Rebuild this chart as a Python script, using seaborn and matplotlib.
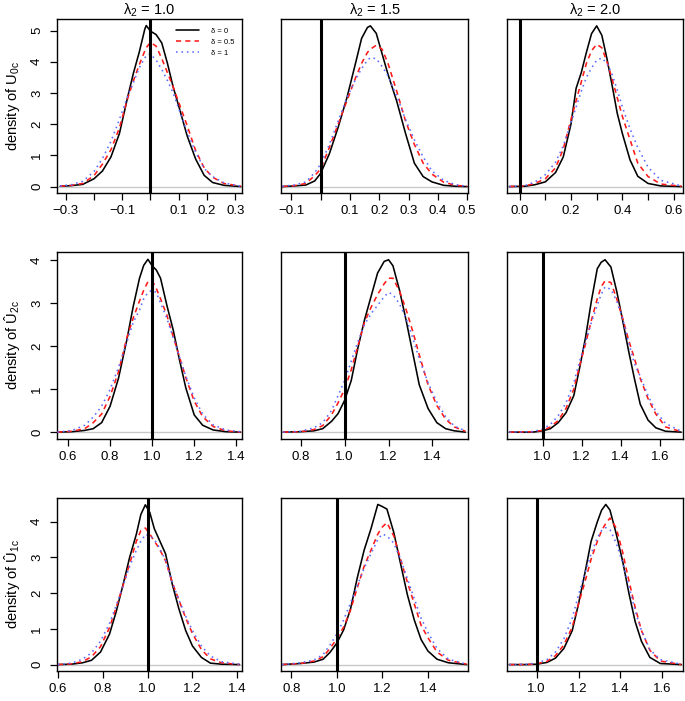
import pandas as pd
import matplotlib
matplotlib.use("Agg")
import matplotlib.pyplot as plt
import seaborn as sns
from matplotlib.lines import Line2D

# Density estimates (x grid + one list per delta)
lambda2_values = ["1.0", "1.5", "2.0"]
delta_labels = ["δ = 0", "δ = 0.5", "δ = 1"]
true_values = [0.0, 1.0, 1.0]  # U0c, U2c, U1c

# ---- U0c ----
u0c_l10_x = [-0.32, -0.28, -0.24, -0.20, -0.17, -0.14, -0.11, -0.08, -0.06, -0.04, -0.02, -0.015,
             0.0, 0.02, 0.04, 0.06, 0.08, 0.10, 0.13, 0.16, 0.19, 0.22, 0.26, 0.32]
u0c_l10_d0 = [0.01, 0.03, 0.07, 0.25, 0.5, 0.95, 1.7, 2.9, 3.65, 4.3, 5.05, 5.16,
              4.98, 4.87, 4.6, 3.95, 3.2, 2.58, 1.62, 0.88, 0.36, 0.13, 0.04, 0.0]
u0c_l10_d05 = [0.01, 0.04, 0.1, 0.35, 0.72, 1.18, 1.88, 2.85, 3.4, 3.9, 4.35, 4.45,
               4.62, 4.5, 4.1, 3.65, 3.2, 2.7, 1.95, 1.15, 0.6, 0.3, 0.1, 0.01]
u0c_l10_d1 = [0.02, 0.06, 0.17, 0.48, 0.9, 1.45, 2.15, 2.92, 3.35, 3.8, 4.12, 4.2,
              4.25, 4.05, 3.75, 3.4, 3.0, 2.5, 1.75, 1.1, 0.58, 0.32, 0.12, 0.01]

u0c_l15_x = [-0.13, -0.09, -0.05, -0.02, 0.0, 0.03, 0.06, 0.09, 0.12, 0.14, 0.16, 0.17,
             0.19, 0.21, 0.23, 0.26, 0.29, 0.32, 0.35, 0.38, 0.42, 0.46, 0.50]
u0c_l15_d0 = [0.0, 0.02, 0.05, 0.18, 0.42, 1.05, 1.9, 2.85, 3.98, 4.75, 5.1, 5.15,
              4.91, 4.25, 3.6, 2.73, 1.7, 0.75, 0.32, 0.15, 0.04, 0.01, 0.0]
u0c_l15_d05 = [0.0, 0.03, 0.1, 0.35, 0.56, 1.25, 2.0, 2.75, 3.5, 3.95, 4.3, 4.4,
               4.53, 4.4, 3.95, 3.05, 2.1, 1.35, 0.75, 0.4, 0.14, 0.04, 0.01]
u0c_l15_d1 = [0.01, 0.05, 0.15, 0.45, 0.72, 1.35, 2.1, 2.85, 3.45, 3.78, 4.05, 4.13,
              4.1, 3.85, 3.55, 2.9, 2.15, 1.5, 0.95, 0.5, 0.2, 0.06, 0.01]

u0c_l20_x = [-0.04, 0.02, 0.06, 0.1, 0.14, 0.17, 0.2, 0.22, 0.24, 0.26, 0.28, 0.3,
             0.32, 0.34, 0.36, 0.38, 0.4, 0.43, 0.46, 0.5, 0.55, 0.63]
u0c_l20_d0 = [0.0, 0.01, 0.06, 0.15, 0.45, 0.95, 2.0, 3.15, 3.65, 4.3, 4.9, 5.15,
              4.85, 4.1, 3.25, 2.35, 1.7, 0.85, 0.33, 0.1, 0.02, 0.0]
u0c_l20_d05 = [0.0, 0.02, 0.1, 0.25, 0.6, 1.2, 2.15, 2.75, 3.35, 3.95, 4.35, 4.56,
               4.45, 4.0, 3.45, 2.85, 2.25, 1.5, 0.75, 0.32, 0.08, 0.01]
u0c_l20_d1 = [0.0, 0.03, 0.15, 0.38, 0.78, 1.3, 2.05, 2.55, 3.05, 3.5, 3.8, 4.05,
              4.12, 3.95, 3.6, 3.1, 2.55, 1.85, 1.25, 0.62, 0.2, 0.02]

# ---- U2c hat ----
u2c_l10_x = [0.55, 0.62, 0.68, 0.72, 0.76, 0.8, 0.84, 0.88, 0.91, 0.94, 0.96, 0.98,
             1.0, 1.02, 1.04, 1.07, 1.1, 1.13, 1.16, 1.2, 1.24, 1.29, 1.35, 1.42]
u2c_l10_d0 = [0.0, 0.01, 0.04, 0.08, 0.22, 0.6, 1.25, 2.15, 2.92, 3.58, 3.88, 4.02,
              3.87, 3.77, 3.58, 2.95, 2.38, 1.68, 1.03, 0.4, 0.16, 0.05, 0.01, 0.0]
u2c_l10_d05 = [0.0, 0.02, 0.08, 0.22, 0.42, 0.83, 1.4, 2.2, 2.65, 3.05, 3.3, 3.5,
               3.52, 3.34, 3.1, 2.72, 2.22, 1.75, 1.27, 0.72, 0.36, 0.13, 0.03, 0.0]
u2c_l10_d1 = [0.0, 0.04, 0.16, 0.35, 0.6, 0.99, 1.5, 2.1, 2.55, 2.84, 3.1, 3.25,
              3.3, 3.25, 3.0, 2.65, 2.2, 1.75, 1.3, 0.8, 0.42, 0.17, 0.05, 0.01]

u2c_l15_x = [0.72, 0.8, 0.86, 0.9, 0.94, 0.97, 1.0, 1.03, 1.06, 1.09, 1.12, 1.15,
             1.18, 1.2, 1.22, 1.25, 1.28, 1.31, 1.34, 1.38, 1.42, 1.46, 1.5, 1.55]
u2c_l15_d0 = [0.0, 0.01, 0.03, 0.08, 0.25, 0.43, 0.74, 1.2, 1.95, 2.6, 3.15, 3.7,
              3.97, 4.01, 3.87, 3.3, 2.6, 1.85, 1.1, 0.55, 0.22, 0.08, 0.03, 0.0]
u2c_l15_d05 = [0.0, 0.01, 0.06, 0.15, 0.4, 0.68, 1.0, 1.45, 2.0, 2.55, 2.9, 3.2,
               3.45, 3.58, 3.58, 3.28, 2.85, 2.35, 1.8, 1.1, 0.62, 0.3, 0.12, 0.02]
u2c_l15_d1 = [0.0, 0.02, 0.1, 0.22, 0.5, 0.85, 1.2, 1.65, 2.1, 2.5, 2.75, 2.95,
              3.15, 3.25, 3.2, 2.98, 2.65, 2.2, 1.7, 1.15, 0.7, 0.36, 0.14, 0.03]

u2c_l20_x = [0.83, 0.95, 1.0, 1.04, 1.08, 1.12, 1.16, 1.19, 1.22, 1.25, 1.28, 1.3,
             1.32, 1.35, 1.38, 1.41, 1.44, 1.47, 1.5, 1.54, 1.58, 1.63, 1.71]
u2c_l20_d0 = [0.0, 0.0, 0.03, 0.08, 0.22, 0.45, 0.85, 1.5, 2.2, 3.05, 3.8, 3.95,
              4.01, 3.84, 3.27, 2.6, 1.9, 1.25, 0.65, 0.28, 0.1, 0.02, 0.0]
u2c_l20_d05 = [0.0, 0.01, 0.04, 0.12, 0.27, 0.55, 1.0, 1.55, 2.05, 2.6, 3.1, 3.38,
               3.52, 3.48, 3.1, 2.65, 2.15, 1.72, 1.25, 0.78, 0.42, 0.12, 0.01]
u2c_l20_d1 = [0.0, 0.01, 0.07, 0.18, 0.38, 0.68, 1.15, 1.65, 2.1, 2.55, 2.95, 3.2,
              3.38, 3.32, 3.05, 2.65, 2.1, 1.6, 1.3, 0.85, 0.48, 0.2, 0.02]

# ---- U1c hat ----
u1c_l10_x = [0.6, 0.66, 0.71, 0.75, 0.79, 0.83, 0.86, 0.89, 0.92, 0.95, 0.97, 0.99,
             1.01, 1.03, 1.05, 1.08, 1.11, 1.14, 1.17, 1.2, 1.24, 1.28, 1.33, 1.41]
u1c_l10_d0 = [0.0, 0.01, 0.05, 0.12, 0.35, 0.85, 1.48, 2.22, 3.0, 3.65, 4.2, 4.47,
              4.25, 3.8, 3.52, 3.1, 2.25, 1.55, 0.95, 0.52, 0.2, 0.04, 0.01, 0.0]
u1c_l10_d05 = [0.0, 0.02, 0.08, 0.22, 0.5, 1.03, 1.6, 2.2, 2.82, 3.45, 3.75, 3.82,
               3.65, 3.45, 3.27, 2.9, 2.3, 1.8, 1.3, 0.87, 0.42, 0.16, 0.05, 0.0]
u1c_l10_d1 = [0.0, 0.04, 0.15, 0.33, 0.65, 1.15, 1.65, 2.2, 2.75, 3.2, 3.45, 3.64,
              3.6, 3.5, 3.3, 2.92, 2.3, 1.8, 1.35, 0.95, 0.52, 0.24, 0.08, 0.01]

u1c_l15_x = [0.76, 0.84, 0.9, 0.94, 0.97, 1.0, 1.03, 1.06, 1.09, 1.12, 1.15, 1.18,
             1.2, 1.22, 1.25, 1.28, 1.31, 1.34, 1.37, 1.4, 1.44, 1.49, 1.57]
u1c_l15_d0 = [0.0, 0.03, 0.07, 0.15, 0.34, 0.6, 0.97, 1.55, 2.43, 3.2, 3.8, 4.48,
              4.42, 4.35, 3.7, 2.82, 1.95, 1.25, 0.7, 0.38, 0.15, 0.05, 0.0]
u1c_l15_d05 = [0.0, 0.03, 0.1, 0.22, 0.45, 0.72, 1.05, 1.52, 2.15, 2.75, 3.2, 3.65,
               3.85, 3.97, 3.6, 2.95, 2.3, 1.7, 1.1, 0.75, 0.35, 0.12, 0.01]
u1c_l15_d1 = [0.0, 0.05, 0.13, 0.28, 0.55, 0.85, 1.25, 1.72, 2.2, 2.7, 3.1, 3.5,
              3.65, 3.6, 3.4, 2.95, 2.4, 1.85, 1.3, 0.9, 0.45, 0.15, 0.01]

u1c_l20_x = [0.87, 0.95, 1.0, 1.05, 1.09, 1.13, 1.17, 1.2, 1.23, 1.26, 1.29, 1.31,
             1.33, 1.35, 1.38, 1.41, 1.44, 1.47, 1.5, 1.54, 1.59, 1.69]
u1c_l20_d0 = [0.0, 0.0, 0.01, 0.06, 0.18, 0.45, 0.95, 1.7, 2.55, 3.45, 4.0, 4.32,
              4.48, 4.32, 3.65, 2.9, 2.0, 1.2, 0.65, 0.2, 0.03, 0.0]
u1c_l20_d05 = [0.0, 0.0, 0.02, 0.09, 0.25, 0.55, 1.05, 1.7, 2.3, 2.95, 3.45, 3.75,
               3.95, 4.1, 3.82, 3.15, 2.35, 1.6, 0.95, 0.4, 0.1, 0.0]
u1c_l20_d1 = [0.0, 0.01, 0.04, 0.14, 0.35, 0.72, 1.3, 1.95, 2.55, 3.1, 3.55, 3.75,
              3.83, 3.77, 3.4, 2.85, 2.2, 1.5, 0.95, 0.42, 0.14, 0.01]

panels = [
    [(u0c_l10_x, u0c_l10_d0, u0c_l10_d05, u0c_l10_d1),
     (u0c_l15_x, u0c_l15_d0, u0c_l15_d05, u0c_l15_d1),
     (u0c_l20_x, u0c_l20_d0, u0c_l20_d05, u0c_l20_d1)],
    [(u2c_l10_x, u2c_l10_d0, u2c_l10_d05, u2c_l10_d1),
     (u2c_l15_x, u2c_l15_d0, u2c_l15_d05, u2c_l15_d1),
     (u2c_l20_x, u2c_l20_d0, u2c_l20_d05, u2c_l20_d1)],
    [(u1c_l10_x, u1c_l10_d0, u1c_l10_d05, u1c_l10_d1),
     (u1c_l15_x, u1c_l15_d0, u1c_l15_d05, u1c_l15_d1),
     (u1c_l20_x, u1c_l20_d0, u1c_l20_d05, u1c_l20_d1)],
]

row_labels = [r"density of U$_{\mathrm{0c}}$",
              r"density of Û$_{\mathrm{2c}}$",
              r"density of Û$_{\mathrm{1c}}$"]

# axis settings
xlims = [[(-0.331, 0.324), (-0.135, 0.503), (-0.049, 0.636)],
         [(0.548, 1.427), (0.71, 1.562), (0.818, 1.719)],
         [(0.596, 1.421), (0.755, 1.576), (0.859, 1.698)]]
ylims = [(-0.206, 5.37), (-0.16, 4.19), (-0.18, 4.66)]
yticks = [[0, 1, 2, 3, 4, 5], [0, 1, 2, 3, 4], [0, 1, 2, 3, 4]]
m = "\u2212"
xticks = [
    [([-0.3, -0.2, -0.1, 0.0, 0.1, 0.2, 0.3], [m + "0.3", "", m + "0.1", "", "0.1", "0.2", "0.3"]),
     ([-0.1, 0.0, 0.1, 0.2, 0.3, 0.4, 0.5], [m + "0.1", "", "0.1", "0.2", "0.3", "0.4", "0.5"]),
     ([0.0, 0.1, 0.2, 0.3, 0.4, 0.5, 0.6], ["0.0", "", "0.2", "", "0.4", "", "0.6"])],
    [([0.6, 0.8, 1.0, 1.2, 1.4], ["0.6", "0.8", "1.0", "1.2", "1.4"]),
     ([0.8, 1.0, 1.2, 1.4], ["0.8", "1.0", "1.2", "1.4"]),
     ([1.0, 1.2, 1.4, 1.6], ["1.0", "1.2", "1.4", "1.6"])],
    [([0.6, 0.8, 1.0, 1.2, 1.4], ["0.6", "0.8", "1.0", "1.2", "1.4"]),
     ([0.8, 1.0, 1.2, 1.4], ["0.8", "1.0", "1.2", "1.4"]),
     ([1.0, 1.2, 1.4, 1.6], ["1.0", "1.2", "1.4", "1.6"])],
]

sns.set_style("white")
plt.rcParams["font.family"] = ["Liberation Sans", "DejaVu Sans"]
plt.rcParams["mathtext.fontset"] = "custom"
plt.rcParams["mathtext.rm"] = "Liberation Sans"
plt.rcParams["mathtext.it"] = "Liberation Sans:italic"
plt.rcParams["mathtext.bf"] = "Liberation Sans:bold"
plt.rcParams["text.color"] = "black"
plt.rcParams["axes.labelcolor"] = "black"
plt.rcParams["xtick.color"] = "black"
plt.rcParams["ytick.color"] = "black"

palette = {delta_labels[0]: "black", delta_labels[1]: "#FF1A1A", delta_labels[2]: "#5C6BFF"}
dashes = {delta_labels[0]: "", delta_labels[1]: (3.2, 2.6), delta_labels[2]: (1, 2.4)}

W, H = 685, 701
fig = plt.figure(figsize=(W / 100, H / 100), dpi=100)
col_px = [(57, 242), (281, 468), (507, 683)]
row_px = [(19, 193), (252, 439), (498, 671)]

for r in range(3):
    for c in range(3):
        l, rr = col_px[c]
        t, b = row_px[r]
        ax = fig.add_axes([l / W, 1 - b / H, (rr - l) / W, (b - t) / H])
        x, d0, d05, d1 = panels[r][c]
        df = pd.DataFrame({
            "x": x * 3,
            "density": d0 + d05 + d1,
            "delta": [delta_labels[0]] * len(x) + [delta_labels[1]] * len(x) + [delta_labels[2]] * len(x),
        })
        ax.axhline(0, color="#C8C8C8", lw=1.0, zorder=1)
        sns.lineplot(data=df, x="x", y="density", hue="delta", style="delta",
                     hue_order=delta_labels, style_order=delta_labels,
                     palette=palette, dashes=dashes, estimator=None, sort=False,
                     legend=False, linewidth=1.15, ax=ax, zorder=3)
        ax.axvline(true_values[r], color="black", lw=2.2, zorder=5)

        ax.set_xlim(*xlims[r][c])
        ax.set_ylim(*ylims[r])
        ax.set_xticks(xticks[r][c][0])
        ax.set_xticklabels(xticks[r][c][1])
        ax.set_xlabel("")
        ax.tick_params(axis="x", direction="out", length=5, width=0.9, labelsize=9.5, pad=4,
                       colors="black", bottom=True)
        for sp in ax.spines.values():
            sp.set_color("black")
            sp.set_linewidth(1.0)

        if c == 0:
            ax.set_yticks(yticks[r])
            ax.set_yticklabels([str(v) for v in yticks[r]], rotation=90, va="center")
            ax.tick_params(axis="y", direction="out", length=5, width=0.9, labelsize=9.5, pad=5,
                           colors="black", left=True)
            ax.set_ylabel(row_labels[r], fontsize=10.5, color="black")
            ax.yaxis.set_label_coords(-0.19, 0.5)
        else:
            ax.set_yticks([])
            ax.set_ylabel("")

        if r == 0:
            ax.set_title(r"$\mathrm{\lambda}_2$ = " + lambda2_values[c], fontsize=10.5, pad=3.5,
                         color="black")

        if r == 0 and c == 0:
            handles = [Line2D([], [], color="black", lw=1.15),
                       Line2D([], [], color=palette[delta_labels[1]], lw=1.15, dashes=dashes[delta_labels[1]]),
                       Line2D([], [], color=palette[delta_labels[2]], lw=1.15, dashes=dashes[delta_labels[2]])]
            ax.legend(handles, delta_labels, loc="upper right", bbox_to_anchor=(0.99, 0.985),
                      frameon=False, fontsize=5.5, handlelength=3.0, labelspacing=0.45,
                      handletextpad=1.5, borderpad=0.3)

fig.savefig("out.png", dpi=100)
